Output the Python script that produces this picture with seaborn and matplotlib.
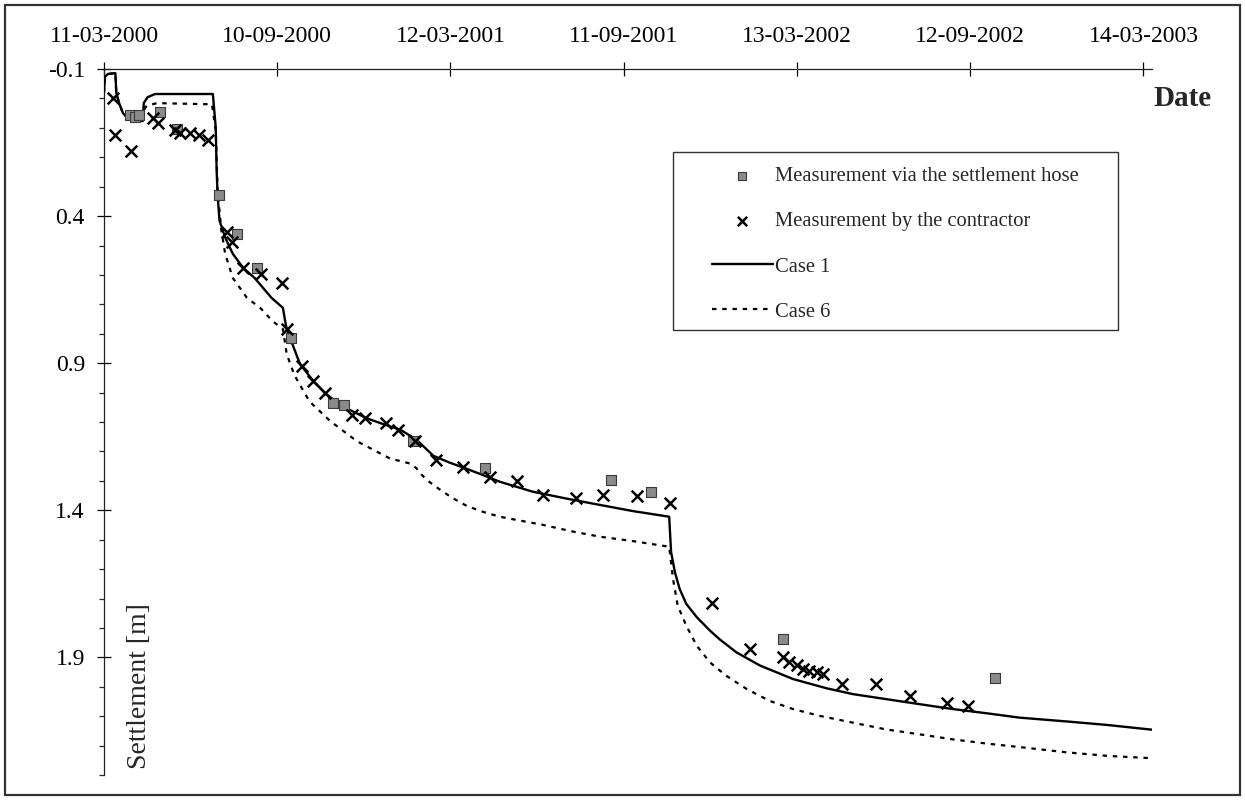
import matplotlib
matplotlib.use("Agg")
import matplotlib.pyplot as plt
from matplotlib.patches import Rectangle
from matplotlib.ticker import FixedLocator
import numpy as np
import pandas as pd
import seaborn as sns

# ---------------- data (x = days since 11-03-2000, y = settlement in m) ----------------
tick_days = [0, 183, 366, 549, 732, 915, 1098]
tick_labels = ["11-03-2000", "10-09-2000", "12-03-2001", "11-09-2001",
               "13-03-2002", "12-09-2002", "14-03-2003"]
y_ticks = [-0.1, 0.4, 0.9, 1.4, 1.9]

case1_day = [0, 1, 4, 12, 13, 16, 20, 25, 33, 41, 42, 46, 54, 115, 118, 119, 120, 122,
             128, 136, 147, 159, 177, 189, 191, 193, 207, 221, 235, 252, 278, 302, 313,
             330, 348, 365, 383, 400, 418, 453, 488, 524, 559, 597, 599, 603, 608, 615,
             626, 640, 650, 668, 693, 728, 763, 791, 826, 861, 897, 932, 967, 1017, 1060,
             1107]
case1_val = [-0.021, -0.073, -0.083, -0.086, -0.018, 0.016, 0.050, 0.067, 0.074, 0.077,
             0.016, -0.004, -0.015, -0.015, 0.098, 0.245, 0.330, 0.415, 0.473, 0.528,
             0.576, 0.610, 0.678, 0.712, 0.750, 0.784, 0.903, 0.960, 1.006, 1.047, 1.088,
             1.115, 1.126, 1.160, 1.215, 1.238, 1.259, 1.280, 1.303, 1.337, 1.360, 1.382,
             1.403, 1.422, 1.542, 1.610, 1.667, 1.718, 1.763, 1.809, 1.838, 1.883, 1.928,
             1.974, 2.005, 2.025, 2.042, 2.059, 2.076, 2.090, 2.105, 2.118, 2.130, 2.146]

case6_day = [0, 1, 4, 12, 13, 16, 20, 25, 33, 41, 42, 45, 56, 114, 118, 120, 124, 128,
             136, 151, 165, 178, 189, 193, 201, 217, 239, 267, 302, 323, 330, 334, 341,
             348, 358, 369, 383, 400, 418, 436, 464, 496, 524, 559, 597, 601, 606, 615,
             626, 640, 657, 679, 703, 728, 756, 791, 826, 862, 897, 932, 967, 1017, 1060,
             1107]
case6_val = [-0.021, -0.073, -0.083, -0.086, -0.018, 0.016, 0.050, 0.067, 0.074, 0.077,
             0.040, 0.025, 0.016, 0.020, 0.108, 0.313, 0.450, 0.528, 0.610, 0.678, 0.712,
             0.757, 0.784, 0.869, 0.940, 1.030, 1.097, 1.165, 1.224, 1.241, 1.257, 1.274,
             1.297, 1.314, 1.337, 1.360, 1.385, 1.405, 1.422, 1.433, 1.450, 1.473, 1.490,
             1.505, 1.524, 1.633, 1.724, 1.792, 1.860, 1.917, 1.962, 2.008, 2.048, 2.076,
             2.099, 2.122, 2.145, 2.162, 2.179, 2.193, 2.205, 2.223, 2.235, 2.243]

hose_day = [27, 33, 37, 59, 77, 122, 141, 162, 198, 242, 254, 326, 402, 536, 578, 717, 941]
hose_val = [0.057, 0.063, 0.057, 0.046, 0.105, 0.330, 0.461, 0.575, 0.815, 1.037, 1.043,
            1.166, 1.258, 1.296, 1.337, 1.839, 1.971]

contr_day = [10, 12, 29, 52, 57, 75, 80, 91, 100, 110, 130, 135, 147, 166, 188, 193, 209,
             221, 233, 262, 276, 298, 311, 328, 351, 379, 408, 436, 464, 499, 527, 563,
             598, 642, 682, 717, 724, 732, 738, 745, 753, 759, 780, 815, 851, 890, 913]
contr_val = [0.000, 0.125, 0.179, 0.068, 0.083, 0.108, 0.117, 0.119, 0.125, 0.140, 0.455,
             0.489, 0.575, 0.597, 0.626, 0.784, 0.910, 0.961, 1.001, 1.075, 1.087, 1.104,
             1.126, 1.166, 1.229, 1.252, 1.286, 1.299, 1.347, 1.357, 1.347, 1.350, 1.374,
             1.716, 1.873, 1.900, 1.917, 1.927, 1.941, 1.948, 1.951, 1.958, 1.989, 1.989,
             2.030, 2.054, 2.064]

# ---------------- style ----------------
sns.set_theme(style="white")
plt.rcParams["font.family"] = ["Liberation Serif", "DejaVu Serif"]
plt.rcParams["axes.linewidth"] = 0.9
plt.rcParams["axes.unicode_minus"] = False

W, H = 1245, 800
fig = plt.figure(figsize=(W / 100, H / 100), dpi=100)
ax_left, ax_right, ax_top, ax_bottom = 104, 1152, 69, 775
ax = fig.add_axes([ax_left / W, 1 - ax_bottom / H, (ax_right - ax_left) / W,
                   (ax_bottom - ax_top) / H])

c1 = pd.DataFrame({"day": case1_day, "val": case1_val})
c6 = pd.DataFrame({"day": case6_day, "val": case6_val})
hose = pd.DataFrame({"day": hose_day, "val": hose_val})
contr = pd.DataFrame({"day": contr_day, "val": contr_val})

sns.lineplot(data=c1, x="day", y="val", ax=ax, color="black", lw=1.7,
             estimator=None, sort=False, label="Case 1", zorder=3)
sns.lineplot(data=c6, x="day", y="val", ax=ax, color="black", lw=1.6,
             estimator=None, sort=False, label="Case 6", zorder=2,
             linestyle=(0, (2.0, 2.6)))
sns.scatterplot(data=hose, x="day", y="val", ax=ax, marker="s", s=42,
                color="#8a8a8a", edgecolor="#3a3a3a", linewidth=0.8,
                label="Measurement via the settlement hose", zorder=4)
sns.scatterplot(data=contr, x="day", y="val", ax=ax, marker="x", s=70,
                color="black", linewidth=1.8,
                label="Measurement by the contractor", zorder=5)

ax.set_xlim(0, 1107)
ax.set_ylim(2.3, -0.1)

ax.xaxis.tick_top()
ax.set_xticks(tick_days)
ax.set_xticklabels(tick_labels)
ax.yaxis.set_major_locator(FixedLocator(y_ticks))
ax.set_yticklabels([f"{v:.1f}" for v in y_ticks])
ax.yaxis.set_minor_locator(FixedLocator(np.round(np.arange(-0.1, 2.31, 0.1), 2)))

ax.tick_params(axis="x", which="major", direction="inout", length=10, width=0.9,
               top=True, bottom=False, labeltop=True, labelbottom=False,
               pad=11, labelsize=17, colors="black")
ax.tick_params(axis="y", which="major", direction="inout", length=9.5, width=0.9,
               left=True, pad=9, labelsize=17, colors="black")
ax.tick_params(axis="y", which="minor", direction="out", length=3.6, width=0.9,
               left=True)

for s in ["right", "bottom"]:
    ax.spines[s].set_visible(False)
for s in ["left", "top"]:
    ax.spines[s].set_color("#222222")

ax.set_xlabel("")
ax.set_ylabel("")
ax.grid(False)

fig.text(1212 / W, 1 - 98 / H, "Date", ha="right", va="center",
         fontsize=21, fontweight="bold")
fig.text(140 / W, 1 - 686 / H, "Settlement [m]", ha="center", va="center",
         rotation=90, fontsize=20)

# legend
handles, labels = ax.get_legend_handles_labels()
order = ["Measurement via the settlement hose", "Measurement by the contractor",
         "Case 1", "Case 6"]
hmap = dict(zip(labels, handles))
leg = ax.legend([hmap[k] for k in order], order, loc="upper left",
                bbox_to_anchor=(712 / W, 1 - 167 / H), bbox_transform=fig.transFigure,
                frameon=False, fontsize=14.8, handlelength=2.95, handletextpad=0.1,
                labelspacing=1.25, borderpad=0, borderaxespad=0, markerscale=0.8)

fig.add_artist(Rectangle((673 / W, 1 - 330 / H), (1118 - 673) / W, (330 - 152) / H,
                         transform=fig.transFigure, fill=False, lw=1.0,
                         edgecolor="#333333"))
fig.add_artist(Rectangle((5 / W, 5 / H), (1240 - 5) / W, (795 - 5) / H,
                         transform=fig.transFigure, fill=False, lw=1.6,
                         edgecolor="#333333"))

fig.savefig("out.png", dpi=100)
